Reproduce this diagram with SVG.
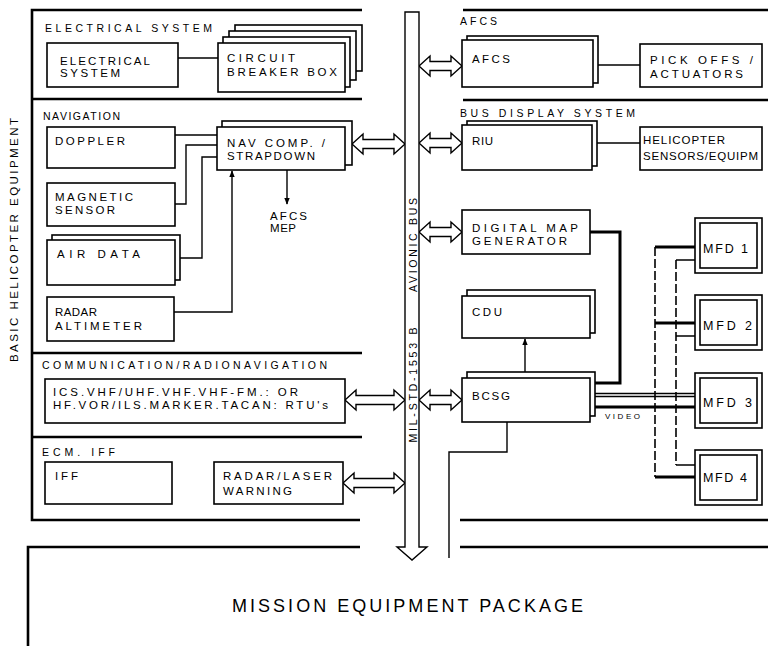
<svg xmlns="http://www.w3.org/2000/svg" width="768" height="646" viewBox="0 0 768 646">
<style>
text{font-family:"Liberation Sans",Arial,sans-serif;fill:#000}
.t{font-size:11.5px}
.lab{font-size:10.5px}
.mfd{font-size:12.5px}
.box{fill:#fff;stroke:#000;stroke-width:1.6}
.sec{fill:none;stroke:#000;stroke-width:2.6}
.ln{fill:none;stroke:#000;stroke-width:1.4}
.thick{fill:none;stroke:#000;stroke-width:3}
.dash{fill:none;stroke:#000;stroke-width:1.6;stroke-dasharray:9 3}
.arr{fill:#fff;stroke:#000;stroke-width:1.4}
</style>
<defs>
<marker id="ah" viewBox="0 0 10 10" refX="9" refY="5" markerWidth="7" markerHeight="7" orient="auto" markerUnits="userSpaceOnUse">
<path d="M0,1 L10,5 L0,9 Z" fill="#000"/>
</marker>
</defs>
<rect width="768" height="646" fill="#fff"/>

<g id="sections">
<path class="sec" d="M362,10 H32 V520 H360"/>
<path class="sec" d="M32,99 H362 M32,353 H362 M32,437 H362"/>
<path class="sec" d="M360,547 H28 V646"/>
<path class="sec" d="M463,10 H768 M463,100 H768 M460,520 H768 M460,547 H768"/>
<text class="lab" x="45" y="32" textLength="167">ELECTRICAL SYSTEM</text>
<text class="lab" x="43" y="120" textLength="77">NAVIGATION</text>
<text class="lab" x="42" y="369" textLength="285">COMMUNICATION/RADIONAVIGATION</text>
<text class="lab" x="42" y="456" textLength="73">ECM. IFF</text>
<text class="lab" x="460" y="25" textLength="37">AFCS</text>
<text class="lab" x="460" y="117" textLength="175">BUS DISPLAY SYSTEM</text>
<text class="t" transform="translate(18,240) rotate(-90)" text-anchor="middle" font-size="11.5" textLength="244">BASIC HELICOPTER EQUIPMENT</text>
</g>

<g id="connectors">
<path class="ln" d="M178,58 H218"/>
<path class="ln" d="M175,135 H217"/>
<path class="ln" d="M175,204 H186 V145 H217"/>
<path class="ln" d="M180,258 H202 V157 H217"/>
<path class="ln" d="M174,312 H232 V171" marker-end="url(#ah)"/>
<path class="ln" d="M287,170 V204" marker-end="url(#ah)"/>
<path class="ln" d="M598,65 H640"/>
<path class="ln" d="M597,143 H640"/>
<path class="thick" stroke-width="2.6" d="M590,232 H620 V383 H593"/>
<path class="ln" d="M525,372 V339" marker-end="url(#ah)"/>
<path class="ln" stroke-width="1.1" d="M593,393.5 H695 M593,396.5 H695"/>
<path class="thick" stroke-width="3.4" d="M590,407 H695"/>
<path class="thick" d="M695,247 H655 M655,323 H695 M655,477 H695"/>
<path class="dash" d="M655,247 V477"/>
<path class="ln" d="M695,260 H676 M676,336 H695 M676,465 H695"/>
<path class="dash" stroke-width="1.3" d="M676,260 V465"/>
<path class="ln" stroke-width="1.8" d="M507,422 V452 H449 V558"/>
<path class="arr" d="M352,144 L363,134 L363,139.5 L394,139.5 L394,134 L405,144 L394,154 L394,148.5 L363,148.5 L363,154 Z"/>
<path class="arr" d="M345,400 L356,390 L356,395.5 L394,395.5 L394,390 L405,400 L394,410 L394,404.5 L356,404.5 L356,410 Z"/>
<path class="arr" d="M343,483 L354,473 L354,478.5 L394,478.5 L394,473 L405,483 L394,493 L394,487.5 L354,487.5 L354,493 Z"/>
<path class="arr" d="M419,66 L430,56 L430,61.5 L451,61.5 L451,56 L462,66 L451,76 L451,70.5 L430,70.5 L430,76 Z"/>
<path class="arr" d="M419,143 L430,133 L430,138.5 L451,138.5 L451,133 L462,143 L451,153 L451,147.5 L430,147.5 L430,153 Z"/>
<path class="arr" d="M419,232 L430,222 L430,227.5 L451,227.5 L451,222 L462,232 L451,242 L451,236.5 L430,236.5 L430,242 Z"/>
<path class="arr" d="M419,400 L430,390 L430,395.5 L451,395.5 L451,390 L462,400 L451,410 L451,404.5 L430,404.5 L430,410 Z"/>
</g>

<g id="avionic-bus">
<path class="arr" stroke-width="1.5" d="M405,12 H419 V547 H427 L412,560 L397,547 H405 Z"/>
<text class="lab" transform="translate(417,245) rotate(-90)" text-anchor="middle" textLength="94">AVIONIC BUS</text>
<text class="lab" transform="translate(417,385) rotate(-90)" text-anchor="middle" textLength="115">MIL-STD-1553 B</text>
</g>

<g id="electrical-system">
<rect class="box" x="47" y="43" width="131" height="44"/>
<text class="t" x="60" y="65" textLength="90">ELECTRICAL</text>
<text class="t" x="60" y="77" textLength="60">SYSTEM</text>
</g>
<g id="circuit-breaker-box">
<rect class="box" x="235" y="25" width="127" height="46"/>
<rect class="box" x="229" y="31" width="127" height="49"/>
<rect class="box" x="223" y="37" width="127" height="50"/>
<rect class="box" x="218" y="43" width="127" height="49"/>
<text class="t" x="227" y="62" textLength="68">CIRCUIT</text>
<text class="t" x="227" y="76" textLength="110">BREAKER BOX</text>
</g>

<g id="doppler">
<rect class="box" x="47" y="127" width="128" height="41"/>
<text class="t" x="55" y="145" textLength="70">DOPPLER</text>
</g>
<g id="magnetic-sensor">
<rect class="box" x="47" y="183" width="128" height="43"/>
<text class="t" x="55" y="201" textLength="78">MAGNETIC</text>
<text class="t" x="55" y="214" textLength="60">SENSOR</text>
</g>
<g id="air-data">
<rect class="box" x="52" y="235" width="128" height="45"/>
<rect class="box" x="47" y="240" width="128" height="45"/>
<text class="t" x="57" y="258" textLength="83">AIR DATA</text>
</g>
<g id="radar-altimeter">
<rect class="box" x="47" y="297" width="127" height="44"/>
<text class="t" x="55" y="316" textLength="42">RADAR</text>
<text class="t" x="55" y="330" textLength="87">ALTIMETER</text>
</g>
<g id="nav-comp">
<rect class="box" x="222" y="121" width="130" height="44"/>
<rect class="box" x="217" y="127" width="128" height="43"/>
<text class="t" x="227" y="147" textLength="98">NAV COMP. /</text>
<text class="t" x="227" y="160" textLength="88">STRAPDOWN</text>
</g>
<g id="afcs-mep">
<text class="t" x="270" y="220" textLength="37">AFCS</text>
<text class="t" x="270" y="232" textLength="26">MEP</text>
</g>

<g id="comm-radionav">
<rect class="box" x="45" y="379" width="300" height="44"/>
<text class="t" x="53" y="396" textLength="245">ICS.VHF/UHF.VHF.VHF-FM.: OR</text>
<text class="t" x="53" y="409" textLength="275">HF.VOR/ILS.MARKER.TACAN: RTU's</text>
</g>
<g id="iff">
<rect class="box" x="45" y="462" width="127" height="42"/>
<text class="t" x="55" y="480" textLength="23">IFF</text>
</g>
<g id="radar-laser-warning">
<rect class="box" x="214" y="462" width="129" height="42"/>
<text class="t" x="223" y="480" textLength="109">RADAR/LASER</text>
<text class="t" x="223" y="495" textLength="69">WARNING</text>
</g>

<g id="afcs">
<rect class="box" x="467" y="36" width="131" height="47"/>
<rect class="box" x="462" y="40" width="131" height="47"/>
<text class="t" x="472" y="63" textLength="38">AFCS</text>
</g>
<g id="pick-offs">
<rect class="box" x="640" y="44" width="122" height="43"/>
<text class="t" x="650" y="64" textLength="103">PICK OFFS /</text>
<text class="t" x="650" y="78" textLength="93">ACTUATORS</text>
</g>
<g id="riu">
<rect class="box" x="467" y="121" width="130" height="45"/>
<rect class="box" x="462" y="125" width="130" height="45"/>
<text class="t" x="472" y="145" textLength="21">RIU</text>
</g>
<g id="helicopter-sensors">
<rect class="box" x="640" y="127" width="122" height="43"/>
<text class="t" x="643" y="144" textLength="82">HELICOPTER</text>
<text class="t" x="643" y="160" textLength="115">SENSORS/EQUIPM</text>
</g>
<g id="digital-map-generator">
<rect class="box" x="462" y="210" width="128" height="44"/>
<text class="t" x="472" y="232" textLength="106">DIGITAL MAP</text>
<text class="t" x="472" y="245" textLength="95">GENERATOR</text>
</g>
<g id="cdu">
<rect class="box" x="467" y="290" width="128" height="43"/>
<rect class="box" x="462" y="296" width="128" height="42"/>
<text class="t" x="472" y="316" textLength="30">CDU</text>
</g>
<g id="bcsg">
<rect class="box" x="467" y="372" width="128" height="44"/>
<rect class="box" x="462" y="378" width="128" height="44"/>
<text class="t" x="472" y="400" textLength="38">BCSG</text>
<text x="605" y="419" font-size="8" textLength="35">VIDEO</text>
</g>

<g id="mfd1">
<rect class="box" x="695" y="218" width="67" height="55"/>
<rect class="box" x="700" y="223" width="57" height="45"/>
<text class="mfd" x="703" y="253" textLength="45">MFD 1</text>
</g>
<g id="mfd2">
<rect class="box" x="695" y="295" width="67" height="55"/>
<rect class="box" x="700" y="300" width="57" height="45"/>
<text class="mfd" x="703" y="330" textLength="49">MFD 2</text>
</g>
<g id="mfd3">
<rect class="box" x="695" y="373" width="67" height="55"/>
<rect class="box" x="700" y="378" width="57" height="45"/>
<text class="mfd" x="703" y="407" textLength="49">MFD 3</text>
</g>
<g id="mfd4">
<rect class="box" x="695" y="450" width="67" height="55"/>
<rect class="box" x="700" y="455" width="57" height="45"/>
<text class="mfd" x="703" y="482" textLength="44">MFD 4</text>
</g>

<g id="mission-equipment-package">
<text x="232" y="612" font-size="18" textLength="351">MISSION EQUIPMENT PACKAGE</text>
</g>
</svg>
